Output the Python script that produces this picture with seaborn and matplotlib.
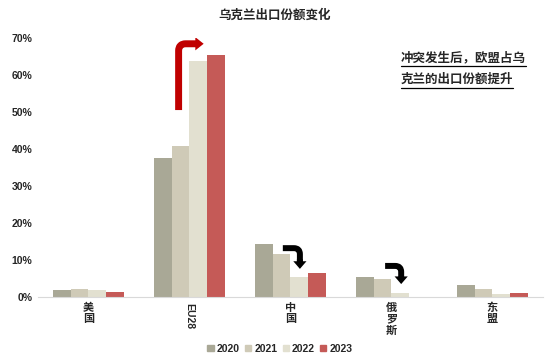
import matplotlib
matplotlib.use("Agg")
import matplotlib.pyplot as plt
from matplotlib.patches import FancyArrowPatch
from matplotlib.lines import Line2D
import seaborn as sns
import pandas as pd

# ── Data ─────────────────────────────────────────────────────────────────────
regions = ["美国", "EU28", "中国", "俄罗斯", "东盟"]
tick_labels = ["美\n国", "EU28", "中\n国", "俄\n罗\n斯", "东\n盟"]
years = ["2020", "2021", "2022", "2023"]
share_2020 = [2.0, 37.6, 14.3, 5.3, 3.2]
share_2021 = [2.3, 40.9, 11.7, 4.9, 2.3]
share_2022 = [1.9, 63.8, 5.5, 1.1, 0.8]
share_2023 = [1.4, 65.4, 6.6, 0.0, 1.2]
colors = ["#a9a896", "#cfcab7", "#e2e0d0", "#c55a57"]

title = "乌克兰出口份额变化"
note_lines = ["冲突发生后，欧盟占乌", "克兰的出口份额提升"]


def bent_arrow(ax, start, corner_end, head_from, tip, color, lw, head_w, head_l, horiz_first, rad):
    """Shaft with a rounded right-angle bend plus a solid arrow head."""
    if horiz_first:
        style = f"angle,angleA=0,angleB=90,rad={rad}"
    else:
        style = f"angle,angleA=90,angleB=0,rad={rad}"
    ax.add_patch(FancyArrowPatch(start, corner_end, arrowstyle="-", connectionstyle=style,
                                 lw=lw, color=color, capstyle="butt",
                                 shrinkA=0, shrinkB=0))
    ax.add_patch(FancyArrowPatch(head_from, tip,
                                 arrowstyle=f"simple,head_width={head_w},head_length={head_l},tail_width={lw / 10}",
                                 mutation_scale=10, lw=0, color=color,
                                 shrinkA=0, shrinkB=0))


# ── Plot ─────────────────────────────────────────────────────────────────────
sns.set_style("white")
plt.rcParams["font.family"] = ["Liberation Sans", "Noto Sans CJK SC", "DejaVu Sans"]
plt.rcParams["font.weight"] = "bold"

rows = []
for y, vals in zip(years, [share_2020, share_2021, share_2022, share_2023]):
    for r, v in zip(regions, vals):
        rows.append({"region": r, "year": y, "share": v})
df = pd.DataFrame(rows)

fig = plt.figure(figsize=(5.5, 3.64), dpi=100)
ax = fig.add_axes([0.069, 0.184, 0.918, 0.712])

sns.barplot(data=df, x="region", y="share", hue="year", palette=colors,
            width=0.7, ax=ax, saturation=1, edgecolor="none", legend=False)

ax.set_ylim(0, 70)
ax.set_xlim(-0.5, 4.5)
ax.set_yticks(range(0, 71, 10))
ax.set_yticklabels([f"{t}%" for t in range(0, 71, 10)], fontsize=7.5, fontweight="bold")
ax.set_xticks(range(len(regions)))
ax.set_xticklabels(tick_labels, fontsize=8, fontweight="bold", va="top",
                   linespacing=1.15)
ax.get_xticklabels()[1].set_rotation(-90)
ax.get_xticklabels()[1].set_fontsize(7.5)
ax.tick_params(axis="both", length=0)
ax.tick_params(axis="x", pad=4)
ax.tick_params(axis="y", pad=4)
ax.set_xlabel("")
ax.set_ylabel("")
for s in ["left", "top", "right"]:
    ax.spines[s].set_visible(False)
ax.spines["bottom"].set_color("#d9d9d9")
ax.spines["bottom"].set_linewidth(0.8)

# arrows
bent_arrow(ax, (0.893, 50.5), (1.09, 68.4), (1.07, 68.4), (1.141, 68.4),
           "#c00000", 5, 0.95, 0.6, horiz_first=False, rad=7)
bent_arrow(ax, (1.925, 13.2), (2.094, 9.4), (2.094, 10.2), (2.094, 7.6),
           "black", 4.3, 0.95, 0.55, horiz_first=True, rad=6)
bent_arrow(ax, (2.938, 8.4), (3.097, 4.8), (3.097, 5.6), (3.097, 3.5),
           "black", 4.3, 0.95, 0.55, horiz_first=True, rad=6)

handles = [plt.Rectangle((0, 0), 1, 1, color=c) for c in colors]
fig.legend(handles, years, loc="center", bbox_to_anchor=(0.509, 0.042), ncol=4,
           frameon=False, handlelength=0.6, handleheight=0.6,
           handletextpad=0.3, columnspacing=0.5,
           prop={"weight": "bold", "size": 7.5})

fig.text(0.5, 0.958, title, ha="center", va="center", fontsize=9, fontweight="bold")

note_texts = []
for i, line in enumerate(note_lines):
    t = fig.text(0.729, 1 - (58 + 22 * i) / 364, line, ha="left", va="center",
                 fontsize=9, fontweight="bold")
    note_texts.append(t)

fig.canvas.draw()
renderer = fig.canvas.get_renderer()
for t in note_texts:
    bb = t.get_window_extent(renderer).transformed(fig.transFigure.inverted())
    y = bb.y0 - 1.5 / 364
    fig.add_artist(Line2D([bb.x0, bb.x1], [y, y], transform=fig.transFigure,
                          color="black", lw=0.9))

fig.savefig("out.png", dpi=100, facecolor="white")
